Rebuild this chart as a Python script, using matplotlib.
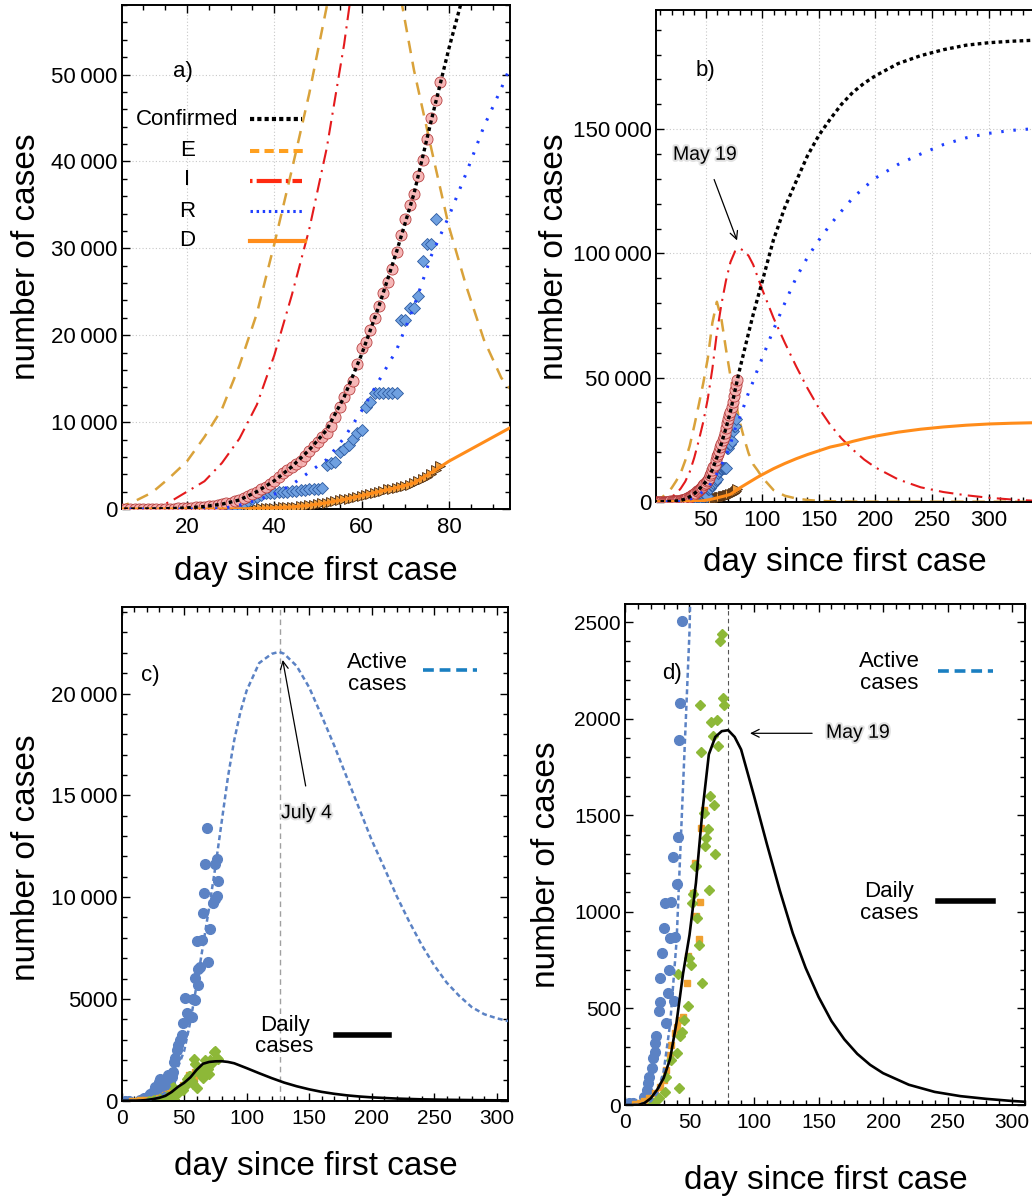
import matplotlib
matplotlib.use('Agg')
import matplotlib.pyplot as plt
from matplotlib.ticker import MultipleLocator, FuncFormatter
import matplotlib.patheffects as pe

plt.rcParams['font.family'] = ['Liberation Sans', 'DejaVu Sans']

# ---- data: cumulative counts (panels a, b) ----
conf_day = list(range(5, 79))
conf_val = [1, 1, 2, 2, 3, 5, 8, 12, 18, 25, 35, 45, 60, 80, 100, 130, 160, 200, 240, 290,
            340, 400, 480, 560, 650, 750, 880, 1040, 1250, 1500, 1750, 2000, 2250, 2550, 2900,
            3250, 3700, 4200, 4500, 4870, 5150, 5500, 6100, 6700, 7200, 7700, 8250, 8700, 9600,
            10600, 11700, 12900, 13800, 14700, 16700, 18500, 19200, 20600, 22000, 23400, 24900,
            26100, 27600, 29600, 31500, 33400, 35000, 36300, 38300, 40200, 42600, 45000, 47100, 49200]

rec_day = list(range(28, 78))
rec_val = [50, 80, 150, 300, 500, 700, 900, 1100, 1400, 1650, 1800, 1850, 1900, 1950, 2000,
           2000, 2050, 2100, 2150, 2200, 2250, 2300, 2350, 2400, 5070, 5260, 5450, 6600, 6900,
           7370, 8030, 8700, 9100, 11720, 12360, 13400, 13400, 13400, 13400, 13400, 13400,
           21800, 21800, 23100, 23100, 24500, 28500, 30500, 30500, 33400]

death_day = list(range(30, 79))
death_val = [10, 15, 20, 30, 40, 50, 60, 80, 100, 120, 140, 160, 180, 200, 230, 270, 300, 360,
             420, 490, 560, 640, 720, 800, 900, 1000, 1100, 1200, 1300, 1420, 1530, 1650, 1760,
             1880, 2000, 2120, 2250, 2350, 2450, 2550, 2650, 2800, 3000, 3200, 3400, 3700, 4000,
             4500, 5000]

model_day = [4, 8, 12, 16, 20, 24, 28, 32, 36, 40, 44, 48, 52, 56, 60, 64, 68, 72, 76, 80, 84,
             88, 92, 96, 100, 110, 120, 130, 140, 150, 160, 170, 180, 190, 200, 220, 240, 260,
             280, 300, 320, 340, 350]
model_E = [100, 900, 1900, 3600, 5500, 8300, 11500, 16500, 22500, 30500, 39000, 47800, 57800,
           72000, 80500, 73500, 61500, 50500, 41400, 32500, 25600, 19500, 15100, 12600, 9800,
           4700, 2400, 1300, 700, 350, 180, 100, 50, 30, 20, 10, 5, 0, 0, 0, 0, 0, 0]
model_I = [0, 0, 100, 800, 2000, 3200, 5300, 8100, 12000, 17700, 24600, 32200, 41500, 53500,
           68000, 79500, 89000, 96500, 100800, 102000, 101000, 99000, 95500, 90500, 85500,
           74000, 64000, 54500, 45700, 37700, 31000, 25500, 21000, 17000, 13800, 9000, 5800,
           3900, 2600, 1600, 900, 400, 250]
model_R = [0, 0, 0, 0, 0, 0, 50, 450, 1000, 1700, 2800, 4250, 5700, 8200, 11300, 14800, 18300,
           23300, 29200, 33700, 38700, 44000, 48400, 53300, 57800, 69300, 80000, 90200, 98400,
           105300, 111500, 117000, 122300, 126500, 130300, 135800, 140000, 143800, 146500,
           148300, 149500, 150200, 150400]
model_D = [0, 0, 0, 0, 0, 0, 0, 20, 60, 140, 230, 420, 720, 1100, 1530, 2000, 2450, 3000, 4200,
           5500, 6600, 7700, 8800, 9900, 10900, 13300, 15400, 17300, 19000, 20500, 22000, 23000,
           24300, 25400, 26400, 28000, 29200, 30100, 30800, 31300, 31600, 31800, 31900]
model_C = [0, 2, 12, 45, 130, 290, 560, 1040, 2000, 3250, 4870, 6800, 9100, 12900, 17800, 23400,
           29600, 36300, 44800, 53000, 60500, 68000, 75300, 82000, 88600, 105500, 118500,
           129000, 139300, 147500, 154000, 160000, 164800, 168500, 171500, 176400, 179600,
           182000, 183800, 184800, 185400, 185800, 186000]

# ---- active / daily cases (panels c, d) ----
active_day = [3, 6, 15, 17, 18, 19, 21, 22, 23, 23, 24, 26, 27, 27, 29, 30, 31, 32, 33, 34, 35,
              36, 37, 38, 39, 40, 41, 42, 43, 44, 45, 47, 48, 49, 51, 52, 55, 56, 57, 59, 59, 61,
              61, 63, 60, 64, 65, 66, 67, 68, 69, 71, 73, 75, 75, 76, 76, 77]
active_val = [10, 10, 43, 78, 112, 147, 190, 242, 276, 320, 358, 489, 532, 660, 786, 916, 1045,
              423, 579, 700, 867, 1049, 1284, 537, 869, 1145, 1387, 1887, 2082, 2505, 2730, 2980,
              3220, 3800, 5030, 4290, 4130, 4130, 4980, 4940, 6010, 5680, 6450, 6580, 7860, 7890,
              9230, 10210, 11620, 13420, 6790, 8430, 9690, 9890, 11620, 10050, 11850, 10800]

daily_day = [22, 26, 31, 32, 36, 40, 41, 42, 43, 44, 46, 49, 50, 51, 52, 53, 54, 55, 56, 57, 58,
             59, 60, 61, 62, 63, 64, 65, 66, 67, 68, 69, 70, 71, 72, 74, 75, 76, 77]
daily_val = [9, 35, 69, 147, 233, 268, 679, 86, 358, 380, 441, 510, 760, 726, 1045, 1094, 1235,
             1235, 968, 829, 2073, 1826, 631, 1512, 1342, 1382, 1429, 1114, 1602, 1982, 1909,
             1555, 1299, 1995, 1857, 2401, 2436, 2108, 2073]

avg_day = [8, 12, 15, 19, 23, 27, 30, 32, 35, 36, 39, 40, 42, 45, 48, 49, 53, 54, 55, 57, 58, 59, 61]
avg_val = [3, 9, 20, 35, 60, 95, 130, 181, 259, 311, 371, 406, 441, 458, 631, 772, 1097, 1253,
           976, 859, 1049, 1434, 1529]

fit_day = [0, 10, 20, 25, 30, 35, 40, 45, 50, 55, 60, 65, 70, 75, 80, 85, 90, 95, 100, 110, 120,
           126, 130, 140, 150, 160, 170, 180, 190, 200, 210, 220, 230, 240, 250, 260, 270, 280,
           290, 300, 310]
active_fit = [0, 2, 20, 62, 175, 420, 850, 1650, 2450, 3900, 5700, 7600, 9500, 11500, 13700,
              15900, 17700, 19100, 20150, 21500, 21950, 22050, 21950, 21350, 20300, 18900, 17450,
              15900, 14350, 12800, 11450, 10050, 8800, 7650, 6650, 5800, 5150, 4600, 4250, 4050,
              3900]

dfit_day = [0, 10, 15, 20, 25, 30, 35, 40, 45, 50, 55, 60, 65, 70, 75, 80, 85, 90, 95, 100, 110,
            120, 130, 140, 150, 160, 170, 180, 190, 200, 220, 240, 260, 280, 300, 310]
daily_fit = [0, 0, 10, 35, 80, 140, 240, 430, 680, 880, 1150, 1520, 1815, 1905, 1935, 1940,
             1905, 1840, 1720, 1600, 1350, 1110, 890, 710, 560, 435, 340, 265, 208, 165, 105, 68,
             46, 32, 21, 17]


def thousands(v, pos):
    v = int(round(v))
    if v >= 10000:
        return f"{v:,}".replace(',', '\u2009')
    return str(v)


def frame(ax, xmaj, xmin, ymaj, ymin, xsize=16, ysize=16):
    ax.xaxis.set_major_locator(MultipleLocator(xmaj))
    ax.xaxis.set_minor_locator(MultipleLocator(xmin))
    ax.yaxis.set_major_locator(MultipleLocator(ymaj))
    ax.yaxis.set_minor_locator(MultipleLocator(ymin))
    ax.yaxis.set_major_formatter(FuncFormatter(thousands))
    ax.tick_params(which='both', direction='in', top=True, right=True, width=1)
    ax.tick_params(which='major', length=6)
    ax.tick_params(which='minor', length=3.5)
    ax.tick_params(axis='x', labelsize=xsize, pad=6)
    ax.tick_params(axis='y', labelsize=ysize, pad=3)
    for s in ax.spines.values():
        s.set_linewidth(1.4)


E_COL = '#d9a23a'
I_COL = '#e41a1c'
R_COL = '#1f3fff'
D_COL = '#ff8c1a'


def seird(ax):
    ax.plot(model_day, model_E, color=E_COL, lw=1.8, dashes=(5, 3.5), zorder=2)
    ax.plot(model_day, model_I, color=I_COL, lw=1.5, dashes=(7, 3, 1, 3), zorder=2)
    ax.plot(death_day, death_val, ls='none', marker='>', ms=7, mfc='#f0a040', mec='#4a2a10',
            mew=0.6, zorder=3)
    ax.plot(rec_day, rec_val, ls='none', marker='D', ms=6, mfc='#6fa0e0', mec='#2c5aa0',
            mew=0.6, zorder=3)
    ax.plot(conf_day, conf_val, ls='none', marker='o', ms=8, mfc='#f5b0b0', mec='#b03030',
            mew=0.6, alpha=0.9, zorder=3)
    ax.plot(model_day, model_D, color=D_COL, lw=2.2, zorder=4)
    ax.plot(model_day, model_R, color=R_COL, lw=2.2, dashes=(0.8, 3.2), zorder=4)
    ax.plot(model_day, model_C, color='black', lw=2.4, dashes=(1.1, 1.0), zorder=4)
    ax.grid(True, which='major', color='#c8c8c8', lw=0.8, linestyle=(0, (1, 2)))
    ax.set_axisbelow(True)


fig = plt.figure(figsize=(10.32, 11.98), dpi=100)

# ---------------- a) ----------------
ax_a = fig.add_axes([0.1182, 0.5751, 0.3760, 0.4207])
seird(ax_a)
ax_a.set_xlim(5.1, 94)
ax_a.set_ylim(0, 58000)
frame(ax_a, 20, 5, 10000, 2000)
ax_a.text(0.156, 0.869, 'a)', transform=ax_a.transAxes, fontsize=16, ha='center', va='center')
ax_a.text(0.167, 0.772, 'Confirmed', transform=ax_a.transAxes, fontsize=16, ha='center', va='center')
for lab, yy in zip(['E', 'I', 'R', 'D'], [0.712, 0.653, 0.591, 0.532]):
    ax_a.text(0.169, yy, lab, transform=ax_a.transAxes, fontsize=16, ha='center', va='center')
tr = ax_a.transAxes
ax_a.plot([0.33, 0.463], [0.773, 0.773], transform=tr, color='black', lw=3, dashes=(1, 0.75),
          solid_capstyle='butt', dash_capstyle='butt')
ax_a.plot([0.33, 0.472], [0.711, 0.711], transform=tr, color='#ffa01f', lw=2.9, dashes=(2.3, 1.3))
ax_a.plot([0.33, 0.463], [0.651, 0.651], transform=tr, color='#ff2a10', lw=3, dashes=(0.6, 1, 6, 1))
ax_a.plot([0.33, 0.472], [0.591, 0.591], transform=tr, color=R_COL, lw=2.2, dashes=(0.8, 1.2))
ax_a.plot([0.33, 0.472], [0.531, 0.531], transform=tr, color=D_COL, lw=3)

# ---------------- b) ----------------
ax_b = fig.add_axes([0.6354, 0.5812, 0.3720, 0.4105])
seird(ax_b)
ax_b.set_xlim(6, 345)
ax_b.set_ylim(0, 198000)
frame(ax_b, 50, 10, 50000, 10000)
ax_b.text(49.5, 173650, 'b)', fontsize=16, ha='center', va='center')
ax_b.annotate('May 19', xy=(77.8, 105200), xytext=(49.5, 139500), fontsize=14, ha='center',
              va='center', path_effects=[pe.withStroke(linewidth=3, foreground='#e2e2e2')],
              arrowprops=dict(arrowstyle='->', color='black', lw=0.9, shrinkA=10, shrinkB=0))

# ---------------- c) ----------------
ACT_COL = '#5b82c4'
ax_c = fig.add_axes([0.1179, 0.0812, 0.3743, 0.4121])
ax_c.plot(active_day, active_val, ls='none', marker='o', ms=7, color=ACT_COL, zorder=2)
ax_c.plot(avg_day, avg_val, ls='none', marker='s', ms=5, color='#f0a030', zorder=2)
ax_c.plot(daily_day, daily_val, ls='none', marker='D', ms=5.5, color='#8db838', zorder=2)
ax_c.plot(fit_day, active_fit, color=ACT_COL, lw=1.8, dashes=(2, 1.3), zorder=3)
ax_c.plot(dfit_day, daily_fit, color='black', lw=1.9, zorder=3)
ax_c.axvline(126.7, color='#a0a0a0', lw=1, dashes=(4, 3), zorder=1)
ax_c.set_xlim(0, 309)
ax_c.set_ylim(0, 24250)
frame(ax_c, 50, 10, 5000, 1000, xsize=15)
ax_c.text(0.074, 0.862, 'c)', transform=ax_c.transAxes, fontsize=16, ha='center', va='center')
ax_c.text(0.662, 0.866, 'Active\ncases', transform=ax_c.transAxes, fontsize=16, ha='center',
          va='center', linespacing=1.05)
ax_c.plot([0.779, 0.919], [0.873, 0.873], transform=ax_c.transAxes, color='#1a7fc1', lw=2.6,
          dashes=(3, 1.6))
ax_c.text(0.422, 0.131, 'Daily\ncases', transform=ax_c.transAxes, fontsize=16, ha='center',
          va='center', linespacing=1.05)
ax_c.plot([0.554, 0.693], [0.134, 0.134], transform=ax_c.transAxes, color='black', lw=4)
ax_c.annotate('July 4', xy=(128.8, 21650), xytext=(127.5, 14100), fontsize=14, ha='left',
              va='center', path_effects=[pe.withStroke(linewidth=3, foreground='#e2e2e2')],
              arrowprops=dict(arrowstyle='->', color='black', lw=0.9, shrinkA=12, shrinkB=0,
                              relpos=(0.55, 1.0)))

# ---------------- d) ----------------
ax_d = fig.add_axes([0.6056, 0.0776, 0.3876, 0.4182])
ax_d.plot(active_day, active_val, ls='none', marker='o', ms=7, color=ACT_COL, zorder=2)
ax_d.plot(avg_day, avg_val, ls='none', marker='s', ms=5, color='#f0a030', zorder=2)
ax_d.plot(daily_day, daily_val, ls='none', marker='D', ms=5.5, color='#8db838', zorder=2)
ax_d.plot(fit_day, active_fit, color=ACT_COL, lw=1.8, dashes=(2, 1.3), zorder=3)
ax_d.plot(dfit_day, daily_fit, color='black', lw=1.9, zorder=3)
ax_d.axvline(80, color='#555555', lw=0.8, dashes=(4, 3), zorder=1)
ax_d.set_xlim(0, 310)
ax_d.set_ylim(0, 2593)
frame(ax_d, 50, 10, 500, 100, xsize=15, ysize=15)
ax_d.text(0.117, 0.862, 'd)', transform=ax_d.transAxes, fontsize=16, ha='center', va='center')
ax_d.text(0.661, 0.863, 'Active\ncases', transform=ax_d.transAxes, fontsize=16, ha='center',
          va='center', linespacing=1.05)
ax_d.plot([0.783, 0.919], [0.866, 0.866], transform=ax_d.transAxes, color='#1a7fc1', lw=2.6,
          dashes=(3, 1.6))
ax_d.text(0.661, 0.404, 'Daily\ncases', transform=ax_d.transAxes, fontsize=16, ha='center',
          va='center', linespacing=1.05)
ax_d.plot([0.783, 0.919], [0.407, 0.407], transform=ax_d.transAxes, color='black', lw=4)
ax_d.annotate('May 19', xy=(96.9, 1924), xytext=(155.8, 1924), fontsize=14, ha='left',
              va='center', path_effects=[pe.withStroke(linewidth=3, foreground='#e2e2e2')],
              arrowprops=dict(arrowstyle='->', color='black', lw=0.9, shrinkA=8, shrinkB=0,
                              relpos=(0.0, 0.5)))

# axis labels
for x, y in [(0.026, 0.7855), (0.537, 0.786), (0.026, 0.284), (0.530, 0.278)]:
    fig.text(x, y, 'number of cases', rotation=90, fontsize=24, ha='center', va='center')
for x, y in [(0.306, 0.5228), (0.819, 0.5305), (0.306, 0.0267), (0.800, 0.015)]:
    fig.text(x, y, 'day since first case', fontsize=24, ha='center', va='center')

fig.savefig('out.png', dpi=100)
